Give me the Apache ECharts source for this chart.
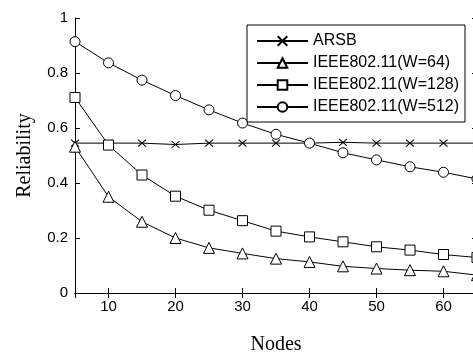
<!DOCTYPE html>
<html>
<head>
<meta charset="utf-8">
<script src="https://cdn.jsdelivr.net/npm/echarts@6/dist/echarts.min.js"></script>
<style>
  html, body { margin: 0; padding: 0; background: #fff; }
  #chart { width: 473px; height: 354px; }
</style>
</head>
<body>
<div id="chart"></div>
<script>
// node counts on the x axis
const nodes = [5, 10, 15, 20, 25, 30, 35, 40, 45, 50, 55, 60, 65];

// reliability per scheme
const arsb = [0.545, 0.545, 0.545, 0.54, 0.545, 0.545, 0.545, 0.545, 0.548, 0.545, 0.545, 0.545, 0.545];
const w64 = [0.532, 0.35, 0.259, 0.2, 0.164, 0.144, 0.125, 0.113, 0.097, 0.089, 0.083, 0.079, 0.065];
const w128 = [0.711, 0.538, 0.429, 0.352, 0.301, 0.263, 0.225, 0.204, 0.186, 0.168, 0.156, 0.14, 0.129];
const w512 = [0.914, 0.837, 0.774, 0.718, 0.666, 0.618, 0.577, 0.545, 0.51, 0.484, 0.459, 0.439, 0.415];

const seriesNames = ['ARSB', 'IEEE802.11(W=64)', 'IEEE802.11(W=128)', 'IEEE802.11(W=512)'];

const chart = echarts.init(document.getElementById('chart'));

const crossPath = 'path://M0,0L10,8M10,0L0,8';

function makeSeries(name, values, symbol, size) {
  return {
    name: name,
    type: 'line',
    data: nodes.map((n, i) => [n, values[i]]),
    symbol: symbol,
    symbolSize: size,
    showAllSymbol: true,
    lineStyle: { color: '#000', width: 1 },
    itemStyle: { color: '#fff', borderColor: '#000', borderWidth: 1 },
    emphasis: { disabled: true },
    z: 3
  };
}

const labelFont = { fontFamily: 'Liberation Sans, Arial, sans-serif', fontSize: 15, color: '#000' };

const option = {
  backgroundColor: '#fff',
  animation: false,
  grid: { left: 75, top: 18, right: -4, bottom: 61, containLabel: false, outerBoundsMode: 'none' },
  legend: {
    orient: 'vertical',
    left: 247,
    top: 25,
    width: 220,
    padding: [8, 6, 7, 9],
    itemWidth: 51,
    itemHeight: 12,
    itemGap: 6,
    borderColor: '#000',
    borderWidth: 1,
    backgroundColor: '#fff',
    textStyle: { fontFamily: 'Liberation Sans, Arial, sans-serif', fontSize: 16, lineHeight: 16, color: '#000' },
    data: seriesNames
  },
  xAxis: [
    {
      type: 'value',
      min: 5,
      max: 65,
      position: 'bottom',
      name: 'Nodes',
      nameLocation: 'middle',
      nameGap: 42,
      nameTextStyle: { fontFamily: 'Liberation Serif, Times New Roman, serif', fontSize: 20, color: '#000' },
      axisLine: { lineStyle: { color: '#000', width: 1 } },
      axisTick: { inside: true, length: 5, lineStyle: { color: '#000' } },
      axisLabel: Object.assign({ margin: 6, showMinLabel: false, showMaxLabel: false }, labelFont),
      splitLine: { show: false }
    },
    {
      type: 'value',
      min: 5,
      max: 65,
      position: 'top',
      axisLine: { lineStyle: { color: '#000', width: 1 } },
      axisTick: { inside: true, length: 5, lineStyle: { color: '#000' } },
      axisLabel: { show: false },
      splitLine: { show: false }
    }
  ],
  yAxis: [
    {
      type: 'value',
      min: 0,
      max: 1,
      interval: 0.2,
      position: 'left',
      name: 'Reliability',
      nameLocation: 'middle',
      nameGap: 40,
      nameTextStyle: { fontFamily: 'Liberation Serif, Times New Roman, serif', fontSize: 20, color: '#000' },
      axisLine: { show: true, lineStyle: { color: '#000', width: 1 } },
      axisTick: { show: true, inside: true, length: 5, lineStyle: { color: '#000' } },
      axisLabel: Object.assign({ margin: 7 }, labelFont),
      splitLine: { show: false }
    },
    {
      type: 'value',
      min: 0,
      max: 1,
      interval: 0.2,
      position: 'right',
      axisLine: { show: true, lineStyle: { color: '#000', width: 1 } },
      axisTick: { show: true, inside: true, length: 5, lineStyle: { color: '#000' } },
      axisLabel: { show: false },
      splitLine: { show: false }
    }
  ],
  series: [
    makeSeries(seriesNames[0], arsb, crossPath, [8, 7]),
    makeSeries(seriesNames[1], w64, 'triangle', 11),
    makeSeries(seriesNames[2], w128, 'rect', 10),
    makeSeries(seriesNames[3], w512, 'circle', 10)
  ]
};

chart.setOption(option);
</script>
</body>
</html>
